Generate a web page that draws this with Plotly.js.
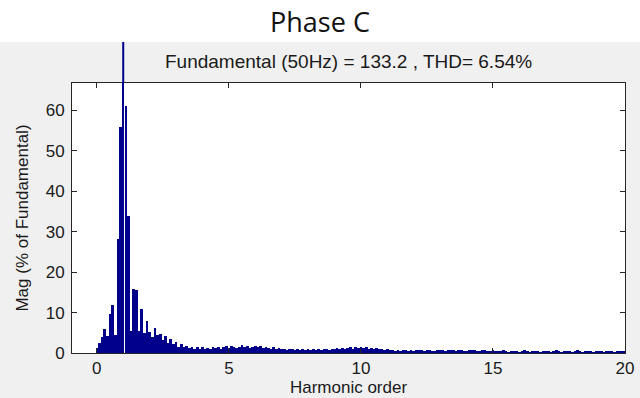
<!DOCTYPE html>
<html><head><meta charset="utf-8">
<script src="https://cdn.plot.ly/plotly-3.0.1.min.js"></script>
<style>html,body{margin:0;padding:0;background:#fff}#chart{width:640px;height:398px}</style>
</head><body><div id="chart"></div>
<script>
// Spectrum bins: harmonic order 0.0 .. 20.0 in steps of 0.1 (x0 / dx below)
const firstOrder = 0;
const orderStep = 0.1;
// Magnitude in % of fundamental, one value per bin
const magnitude = [
  1.2, 2.5, 4.0, 6.0, 4.2, 9.6, 11.8, 4.5, 28.3, 55.8,
  100, 61.0, 34.0, 5.5, 15.8, 15.5, 5.5, 10.8, 5.0, 8.0,
  5.2, 4.0, 6.2, 4.5, 4.8, 3.2, 4.2, 2.5, 3.5, 2.2,
  2.8, 1.5, 2.2, 1.4, 1.8, 1.3, 1.6, 1.1, 1.5, 1.0,
  1.4, 1.0, 1.3, 1.1, 1.6, 1.2, 1.4, 1.0, 1.5, 1.7,
  1.3, 1.8, 1.5, 1.2, 1.6, 1.9, 1.4, 1.7, 1.3, 1.6,
  1.8, 1.4, 1.7, 1.2, 1.5, 1.3, 1.1, 1.4, 1.0, 1.2,
  0.9, 1.1, 0.8, 1.0, 0.9, 0.7, 1.0, 0.8, 0.9, 0.7,
  1.0, 0.8, 0.9, 0.7, 1.0, 0.8, 0.9, 1.1, 0.8, 1.0,
  0.9, 1.2, 1.0, 1.3, 1.1, 1.2, 1.5, 1.1, 1.4, 1.2,
  1.5, 1.3, 1.4, 1.1, 1.3, 1.0, 1.2, 0.9, 1.0, 0.8,
  0.9, 0.7, 0.8, 0.6, 0.8, 0.5, 0.7, 0.8, 0.6, 0.7,
  0.5, 0.8, 0.7, 0.7, 0.5, 0.8, 0.7, 0.6, 0.4, 0.7,
  0.8, 0.7, 0.4, 0.8, 0.7, 0.7, 0.5, 0.8, 0.8, 0.6,
  0.4, 0.7, 0.8, 0.7, 0.5, 0.6, 0.8, 0.7, 0.4, 0.6,
  0.7, 0.6, 0.4, 0.6, 0.7, 0.5, 0.3, 0.6, 0.6, 0.5,
  0.3, 0.6, 0.7, 0.5, 0.3, 0.5, 0.6, 0.6, 0.3, 0.5,
  0.6, 0.5, 0.3, 0.5, 0.7, 0.6, 0.3, 0.5, 0.6, 0.5,
  0.3, 0.6, 0.7, 0.6, 0.3, 0.5, 0.6, 0.5, 0.3, 0.6,
  0.5, 0.6, 0.3, 0.5, 0.6, 0.5, 0.3, 0.4, 0.5, 0.4,
  0.4
];
const xTickValues = [0, 5, 10, 15, 20];
const yTickValues = [0, 10, 20, 30, 40, 50, 60];
const chartTitle = 'Phase C';
const axesTitle = 'Fundamental (50Hz) = 133.2 , THD= 6.54%';
const xTitle = 'Harmonic order';
const yTitle = 'Mag (% of Fundamental)';

const barColor = '#00008c';
const axisColor = '#262626';
const fundamentalWidth = 0.07;
const binWidth = 0.1;
const yMax = 66.8;

const fundIndex = magnitude.indexOf(Math.max(...magnitude));
const fundOrder = firstOrder + fundIndex * orderStep;
const widths = magnitude.map((v, i) => i === fundIndex ? fundamentalWidth : binWidth);

// figure geometry (pixels)
const W = 640, H = 398;
const M = {l: 72, r: 15, t: 83, b: 45};
const plotH = H - M.t - M.b;
const panelTopPx = 42;
const paperYofPx = px => (H - M.b - px) / plotH;
const fundTopPaper = Math.min(magnitude[fundIndex] / yMax, paperYofPx(panelTopPx));

const trace = {
  type: 'bar',
  x0: firstOrder,
  dx: orderStep,
  y: magnitude,
  width: widths,
  marker: {color: barColor, line: {width: 0}},
  hoverinfo: 'x+y'
};

const fontFamily = '"Liberation Sans", Arial, sans-serif';

const layout = {
  width: W, height: H,
  margin: M,
  paper_bgcolor: '#f0f0f0',
  plot_bgcolor: '#ffffff',
  showlegend: false,
  bargap: 0,
  title: {
    text: chartTitle,
    x: 0.5, xref: 'container', xanchor: 'center',
    y: 1 - 23 / H, yref: 'container', yanchor: 'middle',
    font: {family: '"Open Sans", "Noto Sans", sans-serif', size: 27, color: '#111'}
  },
  xaxis: {
    range: [-0.94, 20],
    tickvals: xTickValues,
    ticks: 'inside', ticklen: 5, tickcolor: axisColor, tickwidth: 1,
    showline: true, linecolor: axisColor, linewidth: 1, mirror: 'ticks',
    showgrid: false, zeroline: false,
    tickfont: {family: fontFamily, size: 17, color: '#1a1a1a'},
    title: {text: xTitle, font: {family: fontFamily, size: 17, color: '#1a1a1a'}, standoff: 2}
  },
  yaxis: {
    range: [0, yMax],
    tickvals: yTickValues,
    ticks: 'inside', ticklen: 5, tickcolor: axisColor, tickwidth: 1,
    showline: true, linecolor: axisColor, linewidth: 1, mirror: 'ticks',
    showgrid: false, zeroline: false,
    ticklabelstandoff: 3,
    tickfont: {family: fontFamily, size: 17, color: '#1a1a1a'},
    title: {text: yTitle, font: {family: fontFamily, size: 17, color: '#1a1a1a'}, standoff: 12}
  },
  shapes: [
    // white strip above the figure panel
    {type: 'rect', xref: 'paper', yref: 'paper', x0: -M.l / (W - M.l - M.r), x1: 1 + M.r / (W - M.l - M.r) + 0.01,
     y0: paperYofPx(panelTopPx), y1: paperYofPx(-2), fillcolor: '#ffffff', line: {width: 0}, layer: 'below'},
    // fundamental bar continues above the axes (no clipping)
    {type: 'line', xref: 'x', yref: 'paper', x0: fundOrder, x1: fundOrder, y0: 1, y1: fundTopPaper,
     line: {color: barColor, width: 2}}
  ],
  annotations: [
    {text: axesTitle, xref: 'paper', yref: 'paper', x: 0.5, y: paperYofPx(61), xanchor: 'center', yanchor: 'middle',
     showarrow: false, font: {family: fontFamily, size: 19, color: '#1a1a1a'}}
  ]
};

Plotly.newPlot('chart', [trace], layout, {displayModeBar: false, staticPlot: true});
</script>
</body></html>
